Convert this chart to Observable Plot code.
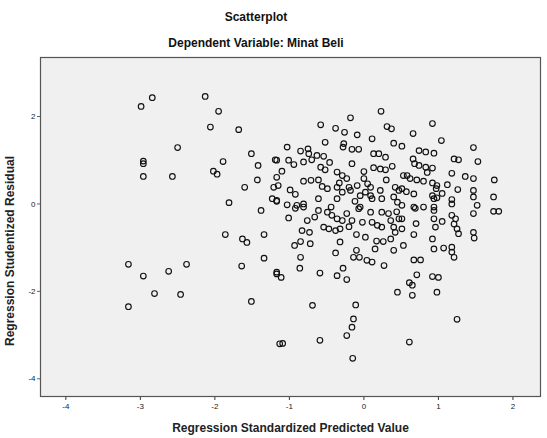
<!DOCTYPE html>
<html>
<head>
<meta charset="utf-8">
<script src="https://cdn.jsdelivr.net/npm/d3@7"></script>
<script src="https://cdn.jsdelivr.net/npm/@observablehq/plot@0.6"></script>
<style>
  html, body { margin: 0; padding: 0; background: #ffffff; }
  #wrap { position: relative; width: 547px; height: 438px; overflow: hidden; font-family: "Liberation Sans", Arial, sans-serif; }
  .ttl { position: absolute; left: 0; width: 512px; text-align: center; font-size: 12px; font-weight: bold; line-height: 14px; color: #111; }
  #chart { position: absolute; left: 0; top: 0; }
  #chart text { fill: #222; }
</style>
</head>
<body>
<div id="wrap">
  <div class="ttl" style="top:10px">Scatterplot</div>
  <div class="ttl" style="top:36px">Dependent Variable: Minat Beli</div>
  <div id="chart"></div>
</div>
<script>
const title = "Scatterplot";
const subtitle = "Dependent Variable: Minat Beli";
const xLabel = "Regression Standardized Predicted Value";
const yLabel = "Regression Studentized Residual";
const xTicks = [-4, -3, -2, -1, 0, 1, 2];
const yTicks = [2, 0, -2, -4];

// Regression standardized predicted values (x)
const predicted = [
  -2.84,-2.99,-2.13,-1.95,-2.06,-1.68,-2.50,-2.96,-2.96,-2.96,-2.57,-1.89,-2.02,-1.97,-1.51,-1.42,-1.19,-1.43,-1.60,-1.81,
  -1.38,-1.21,-1.15,-1.23,-1.17,-3.16,-2.96,-2.62,-2.38,-2.81,-2.46,-3.16,-1.86,-1.63,-1.57,-1.34,-1.34,-1.64,-1.51,-1.17,
  -1.13,-1.17,-1.03,-1.01,-0.76,-0.83,-0.73,-0.93,-0.85,-0.72,-0.85,-0.86,-1.17,-1.11,-0.59,-0.36,-0.23,-0.28,-0.38,-0.32,
  -0.14,-0.06,0.04,0.11,-0.10,0.15,0.27,0.02,-0.10,0.26,0.40,0.53,0.45,-0.69,-0.11,-0.14,-0.16,-0.23,-1.09,-0.59,
  -0.15,0.61,0.61,-0.61,-0.49,-0.43,-0.36,-0.29,-0.54,-0.47,-0.38,-0.32,-0.23,-0.16,-0.07,-0.02,0.09,0.11,0.18,0.24,
  0.24,0.33,0.36,0.40,0.42,0.36,0.45,0.51,0.47,-0.61,-0.36,-0.81,-0.92,0.11,0.24,0.23,-0.18,-0.58,-0.38,-0.26,
  -0.09,0.31,0.37,0.11,-0.52,-1.03,-0.27,-0.28,-0.16,-0.07,0.40,0.51,-0.85,-0.75,-0.74,-0.63,-0.54,-1.17,-1.01,-0.94,
  -0.81,-0.70,0.13,0.20,0.29,-0.16,-0.58,-0.52,-1.10,-1.17,-0.36,-0.29,-0.23,0.00,0.00,0.13,0.22,0.29,0.38,0.58,
  -0.81,-0.71,-0.61,-0.99,-0.92,-0.56,-0.49,-0.36,-0.29,-0.20,-0.09,0.09,0.22,0.09,0.42,0.47,0.40,-0.05,-0.18,-0.90,
  -0.81,-0.05,0.92,0.66,1.04,1.47,0.74,0.83,0.94,1.21,1.27,1.53,0.66,0.68,0.74,0.83,0.92,1.18,1.36,1.47,
  1.75,0.53,0.62,0.71,0.80,0.92,0.98,1.26,1.47,1.74,0.51,0.67,0.92,0.98,1.18,0.67,0.80,0.94,1.18,1.52,
  0.94,1.47,0.69,0.94,1.18,1.47,1.74,1.81,0.51,0.94,1.05,0.96,1.23,1.25,1.27,1.47,1.48,0.67,0.51,0.92,
  0.94,1.07,1.18,1.21,1.18,0.67,0.76,0.71,0.65,0.65,0.92,1.00,0.98,1.25,
  -0.33,-0.44,-0.12,0.05,0.30,0.57,0.85,1.12,-0.66,-0.20,0.17,0.44,0.97,1.21,-0.46,0.02,0.70,1.05
];

// Regression studentized residuals (y)
const residual = [
  2.43,2.23,2.46,2.12,1.76,1.70,1.29,0.92,0.98,0.63,0.63,0.97,0.75,0.68,1.15,0.88,1.01,0.55,0.38,0.03,
  -0.15,0.38,0.42,0.12,0.06,-1.38,-1.65,-1.54,-1.38,-2.05,-2.07,-2.35,-0.70,-0.80,-0.88,-0.70,-1.24,-1.42,-2.23,-1.60,
  -3.20,0.08,-0.02,-0.32,-0.38,-0.61,-0.65,-0.95,-0.86,-0.91,-1.22,-1.47,-1.56,-1.68,-1.58,-1.64,-1.73,-1.47,-1.12,-0.87,
  -1.22,-1.22,-1.29,-1.33,-1.06,-1.03,-1.41,-0.76,-0.70,-0.86,-1.06,-0.95,-2.02,-2.32,-2.31,-2.63,-2.82,-3.01,-3.19,-3.12,
  -3.53,-3.16,-1.80,-0.15,-0.19,-0.26,-0.34,-0.38,-0.53,-0.57,-0.61,-0.57,-0.22,-0.38,-0.11,-0.42,-0.19,-0.42,-0.49,-0.53,
  -0.19,-0.22,-0.38,-0.53,-0.65,-0.80,0.04,-0.03,-0.34,0.12,0.12,-0.07,-0.10,0.12,0.12,2.12,1.97,1.81,1.73,1.64,
  1.58,1.77,1.72,1.49,1.41,1.30,1.38,1.30,1.25,1.25,1.39,1.32,1.21,1.26,1.15,1.11,1.09,1.00,1.00,0.90,
  0.96,1.01,1.15,1.15,1.07,0.92,0.84,0.78,0.75,0.61,0.73,0.65,0.58,0.74,0.58,0.83,0.80,0.78,0.86,0.65,
  0.52,0.54,0.55,0.32,0.22,0.40,0.35,0.38,0.27,0.38,0.42,0.38,0.31,0.19,0.38,0.31,0.16,0.19,0.31,-0.03,
  0.00,-0.07,1.84,1.61,1.45,1.29,1.22,1.19,1.16,1.03,1.01,0.97,1.03,0.92,0.88,0.84,0.82,0.70,0.63,0.58,
  0.55,0.65,0.58,0.55,0.52,0.48,0.42,0.33,0.31,0.16,0.35,0.23,0.19,0.14,0.10,-0.07,-0.07,-0.07,0.00,-0.03,
  0.12,0.16,-0.10,-0.15,-0.26,-0.22,-0.17,-0.17,-0.34,-0.34,-0.40,-0.53,-0.34,-0.57,-0.68,-0.65,-0.78,-0.70,-0.57,-0.80,
  -1.03,-1.01,-0.99,-1.22,-1.10,-1.28,-1.28,-1.62,-1.86,-2.09,-1.66,-1.68,-2.02,-2.64,
  0.48,-0.07,0.06,0.46,0.55,0.28,0.72,0.44,-0.30,-0.52,-0.85,-0.18,0.35,-0.46,0.95,0.27,-0.45,0.24
];

const n = Math.min(predicted.length, residual.length);
const points = d3.range(n).map(i => ({x: predicted[i], y: residual[i]}));

const fmt = d => String(d);

const chart = Plot.plot({
  width: 547,
  height: 438,
  marginTop: 57,
  marginRight: 7,
  marginBottom: 42,
  marginLeft: 40,
  style: { background: "transparent", fontFamily: "'Liberation Sans', Arial, sans-serif", color: "#222" },
  x: { domain: [-4.34, 2.37], ticks: xTicks, tickFormat: fmt, label: null },
  y: { domain: [-4.405, 3.35], ticks: yTicks, tickFormat: fmt, label: null },
  marks: [
    Plot.frame({ fill: "#f0f0f0", stroke: null }),
    Plot.axisX({ ticks: xTicks, tickFormat: fmt, tickSize: 4, tickPadding: 3, fontSize: 8, label: null, stroke: "#333", fill: "#222" }),
    Plot.axisY({ ticks: yTicks, tickFormat: fmt, tickSize: 3, tickPadding: 2, fontSize: 8, label: null, stroke: "#666", fill: "#222" }),
    Plot.dot(points, { x: "x", y: "y", r: 2.8, stroke: "#111", strokeWidth: 1.15, fill: "none" }),
    Plot.frame({ stroke: "#555", strokeWidth: 1.2 }),
    Plot.text([xLabel], { frameAnchor: "bottom", dy: 32, textAnchor: "middle", lineAnchor: "middle", fontSize: 12, fontWeight: "bold", fill: "#111" }),
    Plot.text([yLabel], { frameAnchor: "left", dx: -30, dy: 24, rotate: -90, textAnchor: "middle", lineAnchor: "middle", fontSize: 12, fontWeight: "bold", fill: "#111" })
  ]
});
document.getElementById("chart").appendChild(chart);
</script>
</body>
</html>
